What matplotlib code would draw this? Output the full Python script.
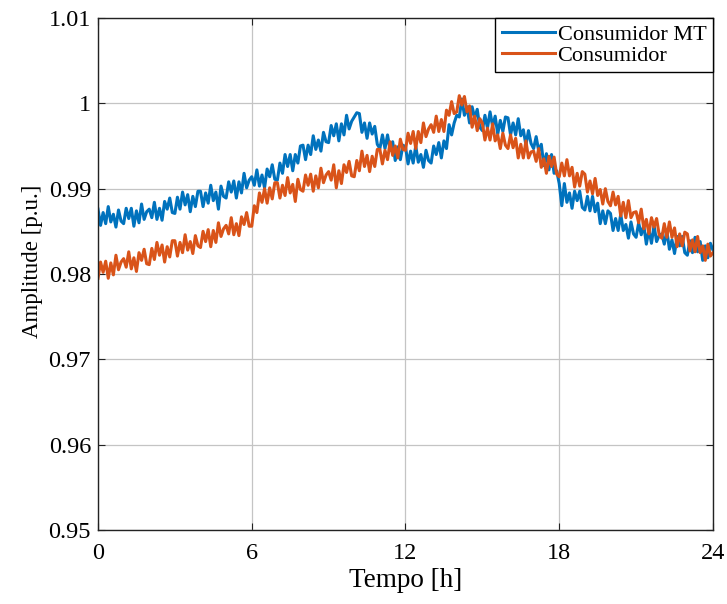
import numpy as np
import matplotlib
matplotlib.use("Agg")
import matplotlib.pyplot as plt

# time axis: 0 .. 24 h in 0.1 h steps
t_hours = np.round(np.arange(0, 241) * 0.1, 1)

consumidor_mt = [
    0.9876, 0.9857, 0.9872, 0.9859, 0.9879, 0.9861, 0.9870, 0.9855, 0.9875, 0.9862,
    0.9859, 0.9877, 0.9865, 0.9877, 0.9856, 0.9874, 0.9860, 0.9882, 0.9864, 0.9873,
    0.9876, 0.9866, 0.9884, 0.9864, 0.9877, 0.9863, 0.9885, 0.9876, 0.9889, 0.9872,
    0.9871, 0.9890, 0.9876, 0.9896, 0.9881, 0.9893, 0.9873, 0.9891, 0.9879, 0.9897,
    0.9897, 0.9879, 0.9895, 0.9883, 0.9904, 0.9886, 0.9896, 0.9876, 0.9903, 0.9891,
    0.9889, 0.9908, 0.9896, 0.9909, 0.9889, 0.9908, 0.9895, 0.9918, 0.9901, 0.9910,
    0.9914, 0.9904, 0.9922, 0.9903, 0.9916, 0.9901, 0.9923, 0.9914, 0.9928, 0.9911,
    0.9910, 0.9930, 0.9918, 0.9940, 0.9926, 0.9940, 0.9921, 0.9940, 0.9930, 0.9950,
    0.9951, 0.9934, 0.9951, 0.9940, 0.9962, 0.9946, 0.9957, 0.9944, 0.9966, 0.9955,
    0.9954, 0.9974, 0.9962, 0.9976, 0.9956, 0.9976, 0.9963, 0.9986, 0.9970, 0.9979,
    0.9984, 0.9989, 0.9988, 0.9966, 0.9977, 0.9959, 0.9977, 0.9964, 0.9973, 0.9952,
    0.9947, 0.9963, 0.9947, 0.9963, 0.9945, 0.9955, 0.9933, 0.9949, 0.9934, 0.9951,
    0.9949, 0.9929, 0.9944, 0.9930, 0.9950, 0.9931, 0.9940, 0.9925, 0.9945, 0.9933,
    0.9930, 0.9950, 0.9940, 0.9954, 0.9936, 0.9956, 0.9947, 0.9975, 0.9963, 0.9977,
    0.9986, 0.9984, 1.0005, 0.9986, 0.9996, 0.9977, 0.9996, 0.9983, 0.9993, 0.9972,
    0.9968, 0.9986, 0.9971, 0.9990, 0.9973, 0.9985, 0.9964, 0.9980, 0.9967, 0.9984,
    0.9983, 0.9963, 0.9977, 0.9963, 0.9982, 0.9962, 0.9969, 0.9951, 0.9968, 0.9953,
    0.9947, 0.9961, 0.9944, 0.9952, 0.9927, 0.9941, 0.9922, 0.9940, 0.9918, 0.9921,
    0.9906, 0.9880, 0.9906, 0.9884, 0.9895, 0.9877, 0.9897, 0.9886, 0.9897, 0.9878,
    0.9875, 0.9891, 0.9874, 0.9891, 0.9873, 0.9883, 0.9859, 0.9874, 0.9859, 0.9874,
    0.9871, 0.9851, 0.9865, 0.9851, 0.9870, 0.9851, 0.9858, 0.9842, 0.9861, 0.9847,
    0.9843, 0.9860, 0.9846, 0.9857, 0.9835, 0.9852, 0.9836, 0.9857, 0.9838, 0.9845,
    0.9847, 0.9835, 0.9851, 0.9829, 0.9840, 0.9824, 0.9844, 0.9833, 0.9844, 0.9825,
    0.9822, 0.9839, 0.9825, 0.9843, 0.9826, 0.9838, 0.9816, 0.9833, 0.9819, 0.9836,
    0.9828,
]

consumidor = [
    0.9795, 0.9814, 0.9802, 0.9815, 0.9795, 0.9813, 0.9799, 0.9822, 0.9805, 0.9814,
    0.9818, 0.9808, 0.9826, 0.9806, 0.9819, 0.9803, 0.9825, 0.9816, 0.9829, 0.9812,
    0.9811, 0.9830, 0.9817, 0.9837, 0.9822, 0.9834, 0.9814, 0.9832, 0.9820, 0.9839,
    0.9839, 0.9821, 0.9837, 0.9825, 0.9846, 0.9828, 0.9838, 0.9824, 0.9845, 0.9833,
    0.9831, 0.9850, 0.9838, 0.9852, 0.9832, 0.9851, 0.9837, 0.9860, 0.9844, 0.9853,
    0.9857, 0.9847, 0.9866, 0.9846, 0.9859, 0.9845, 0.9867, 0.9858, 0.9872, 0.9856,
    0.9856, 0.9880, 0.9872, 0.9895, 0.9884, 0.9900, 0.9883, 0.9901, 0.9888, 0.9907,
    0.9907, 0.9889, 0.9904, 0.9892, 0.9913, 0.9895, 0.9905, 0.9885, 0.9911, 0.9899,
    0.9897, 0.9916, 0.9904, 0.9917, 0.9897, 0.9915, 0.9901, 0.9924, 0.9907, 0.9916,
    0.9920, 0.9910, 0.9928, 0.9901, 0.9921, 0.9906, 0.9928, 0.9919, 0.9932, 0.9915,
    0.9914, 0.9933, 0.9921, 0.9944, 0.9926, 0.9939, 0.9920, 0.9938, 0.9926, 0.9946,
    0.9946, 0.9929, 0.9945, 0.9934, 0.9955, 0.9939, 0.9950, 0.9936, 0.9958, 0.9946,
    0.9945, 0.9965, 0.9953, 0.9967, 0.9947, 0.9967, 0.9954, 0.9977, 0.9961, 0.9970,
    0.9975, 0.9966, 0.9985, 0.9967, 0.9981, 0.9967, 0.9992, 0.9986, 1.0002, 0.9988,
    0.9990, 1.0009, 0.9998, 1.0008, 0.9990, 0.9997, 0.9972, 0.9985, 0.9968, 0.9982,
    0.9977, 0.9957, 0.9971, 0.9957, 0.9976, 0.9956, 0.9963, 0.9947, 0.9965, 0.9951,
    0.9947, 0.9963, 0.9948, 0.9959, 0.9936, 0.9952, 0.9936, 0.9956, 0.9936, 0.9943,
    0.9944, 0.9932, 0.9947, 0.9925, 0.9935, 0.9918, 0.9938, 0.9926, 0.9937, 0.9917,
    0.9914, 0.9930, 0.9915, 0.9934, 0.9915, 0.9925, 0.9902, 0.9918, 0.9903, 0.9920,
    0.9917, 0.9896, 0.9909, 0.9894, 0.9912, 0.9892, 0.9899, 0.9882, 0.9900, 0.9885,
    0.9880, 0.9896, 0.9881, 0.9891, 0.9868, 0.9884, 0.9866, 0.9886, 0.9866, 0.9872,
    0.9873, 0.9860, 0.9876, 0.9853, 0.9864, 0.9847, 0.9866, 0.9855, 0.9865, 0.9846,
    0.9842, 0.9859, 0.9843, 0.9861, 0.9843, 0.9854, 0.9832, 0.9847, 0.9833, 0.9849,
    0.9847, 0.9827, 0.9840, 0.9826, 0.9844, 0.9825, 0.9833, 0.9816, 0.9835, 0.9821,
    0.9825,
]

x_ticks = [0, 6, 12, 18, 24]
y_ticks = [0.95, 0.96, 0.97, 0.98, 0.99, 1.00, 1.01]
y_tick_labels = ["0.95", "0.96", "0.97", "0.98", "0.99", "1", "1.01"]
series_labels = ["Consumidor MT", "Consumidor"]
colors = ["#0072BD", "#D95319"]

plt.rcParams["font.family"] = ["Liberation Serif", "DejaVu Serif"]

fig = plt.figure(figsize=(7.27, 6.04), dpi=100)
ax = fig.add_axes([0.1348, 0.1225, 0.9807 - 0.1348, 0.9702 - 0.1225])

ax.plot(t_hours, consumidor_mt, color=colors[0], lw=2.2, label=series_labels[0])
ax.plot(t_hours, consumidor, color=colors[1], lw=2.2, label=series_labels[1])

ax.set_xlim(0, 24)
ax.set_ylim(0.95, 1.01)
ax.set_xticks(x_ticks)
ax.set_xticklabels([str(v) for v in x_ticks])
ax.set_yticks(y_ticks)
ax.set_yticklabels(y_tick_labels)
ax.grid(True, color="#c4c4c4", lw=0.9)
ax.set_axisbelow(True)
ax.tick_params(direction="in", top=True, right=True, labelsize=17.5, length=5,
               colors="#222222", labelcolor="black")
ax.tick_params(axis="x", pad=9)
ax.tick_params(axis="y", pad=5)
for s in ax.spines.values():
    s.set_color("#222222")
    s.set_linewidth(1.0)

ax.set_xlabel("Tempo [h]", fontsize=19.5)
ax.xaxis.set_label_coords(0.5, -0.075)
ax.set_ylabel("Amplitude [p.u.]", fontsize=16.5)
ax.yaxis.set_label_coords(-0.09, 0.525)

leg = ax.legend(loc="upper right", fontsize=16, frameon=True, fancybox=False,
                edgecolor="black", framealpha=1, borderaxespad=0.0,
                handlelength=2.4, handletextpad=0.12, borderpad=0.3,
                labelspacing=0.0)
leg.get_frame().set_linewidth(1.0)

fig.savefig("out.png", dpi=100)
